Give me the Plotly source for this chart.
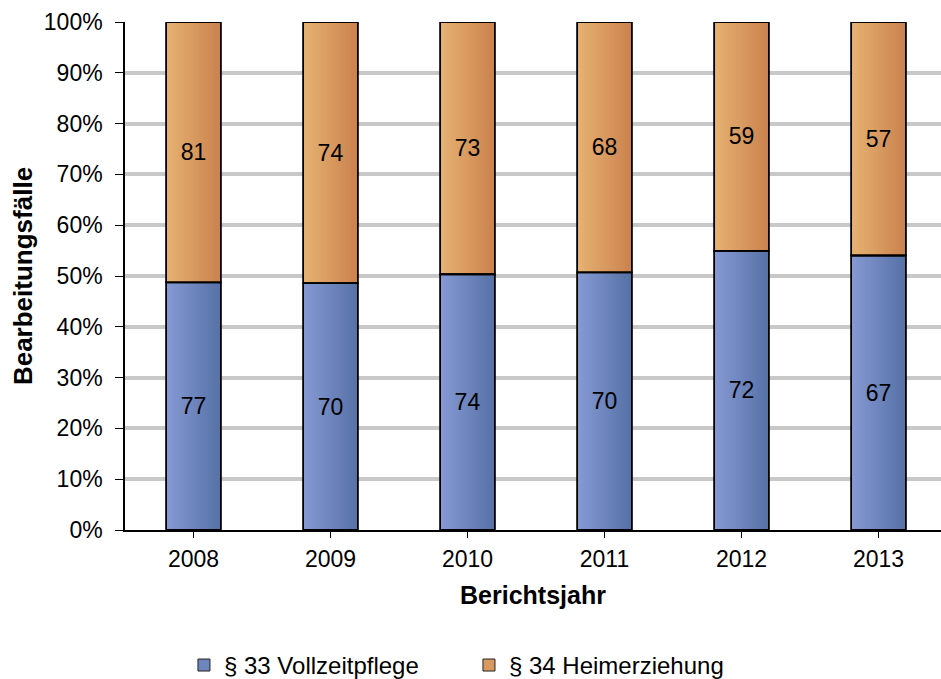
import plotly.graph_objects as go

# Bearbeitungsfälle je Berichtsjahr
years = ["2008", "2009", "2010", "2011", "2012", "2013"]
vollzeitpflege = [77, 70, 74, 70, 72, 67]   # § 33
heimerziehung = [81, 74, 73, 68, 59, 57]    # § 34
y_ticks = [0, 10, 20, 30, 40, 50, 60, 70, 80, 90, 100]
y_tick_text = [f"{v}%" for v in y_ticks]

names = ["§ 33 Vollzeitpflege", "§ 34 Heimerziehung"]
blue_l, blue_r = (134, 153, 212), (86, 114, 166)
orange_l, orange_r = (230, 178, 114), (203, 130, 78)

totals = [a + b for a, b in zip(vollzeitpflege, heimerziehung)]
share33 = [a / t * 100 for a, t in zip(vollzeitpflege, totals)]
share34 = [b / t * 100 for b, t in zip(heimerziehung, totals)]

BAR_W = 0.40
N = 30  # strips per bar for the horizontal colour gradient
FONT = "Liberation Sans, Arial, sans-serif"


def mix(c1, c2, f):
    return "rgb(%d,%d,%d)" % tuple(round(a + (b - a) * f) for a, b in zip(c1, c2))


fig = go.Figure()

# each strip runs from its own left edge to the right edge of the bar,
# so later (darker) strips cover earlier ones without seams
for k in range(N):
    f = k / (N - 1)
    off = -BAR_W / 2 + k * BAR_W / N
    common = dict(x=years, width=BAR_W - k * BAR_W / N, offset=off,
                  showlegend=False, hoverinfo="skip",
                  marker_line_width=0)
    fig.add_trace(go.Bar(y=share33, base=[0] * len(years),
                         marker_color=mix(blue_l, blue_r, f), **common))
    fig.add_trace(go.Bar(y=share34, base=share33,
                         marker_color=mix(orange_l, orange_r, f), **common))

# outlines and value labels
label_font = dict(color="black", size=23, family=FONT)
fig.add_trace(go.Bar(x=years, y=share33, base=[0] * len(years), width=BAR_W,
                     offset=-BAR_W / 2,
                     marker=dict(color="rgba(0,0,0,0)", line=dict(color="black", width=1.8)),
                     text=[str(v) for v in vollzeitpflege], textposition="inside",
                     insidetextanchor="middle", textfont=label_font,
                     showlegend=False, hoverinfo="skip"))
fig.add_trace(go.Bar(x=years, y=share34, base=share33, width=BAR_W,
                     offset=-BAR_W / 2,
                     marker=dict(color="rgba(0,0,0,0)", line=dict(color="black", width=1.8)),
                     text=[str(v) for v in heimerziehung], textposition="inside",
                     insidetextanchor="middle", textfont=label_font,
                     showlegend=False, hoverinfo="skip"))

# legend entries
fig.add_trace(go.Bar(x=[None], y=[None], name=names[0],
                     marker=dict(color=mix(blue_l, blue_r, 0.5), line=dict(color="#222", width=1))))
fig.add_trace(go.Bar(x=[None], y=[None], name=names[1],
                     marker=dict(color=mix(orange_l, orange_r, 0.5), line=dict(color="#222", width=1))))

fig.update_layout(
    width=941, height=679,
    margin=dict(l=125, r=0, t=22, b=149, autoexpand=False),
    barmode="overlay",
    plot_bgcolor="white", paper_bgcolor="white",
    font=dict(family=FONT, color="black"),
    legend=dict(orientation="h", xref="container", yref="container",
                x=0.1955, xanchor="left", y=0.02, yanchor="middle",
                font=dict(size=24), itemwidth=30, entrywidth=240,
                entrywidthmode="pixels", traceorder="normal"),
    uniformtext=dict(mode="show", minsize=10),
)

fig.update_xaxes(
    type="category", range=[-0.5, 5.456],
    showline=True, linecolor="black", linewidth=1.5,
    ticks="outside", ticklen=6, tickcolor="black",
    tickfont=dict(size=23), ticklabelstandoff=2,
    title=dict(text="<b>Berichtsjahr</b>", font=dict(size=25), standoff=15),
    showgrid=False, automargin=False,
)
fig.update_yaxes(
    range=[0, 100], tickvals=y_ticks, ticktext=y_tick_text,
    showline=True, linecolor="black", linewidth=1.5,
    ticks="outside", ticklen=8, tickcolor="black",
    tickfont=dict(size=23), ticklabelstandoff=8,
    showgrid=True, gridcolor="#c8c8c8", gridwidth=4,
    zeroline=False, automargin=False,
    title=dict(text="<b>Bearbeitungsfälle</b>", font=dict(size=26), standoff=4),
)

fig.write_html("out.html")
